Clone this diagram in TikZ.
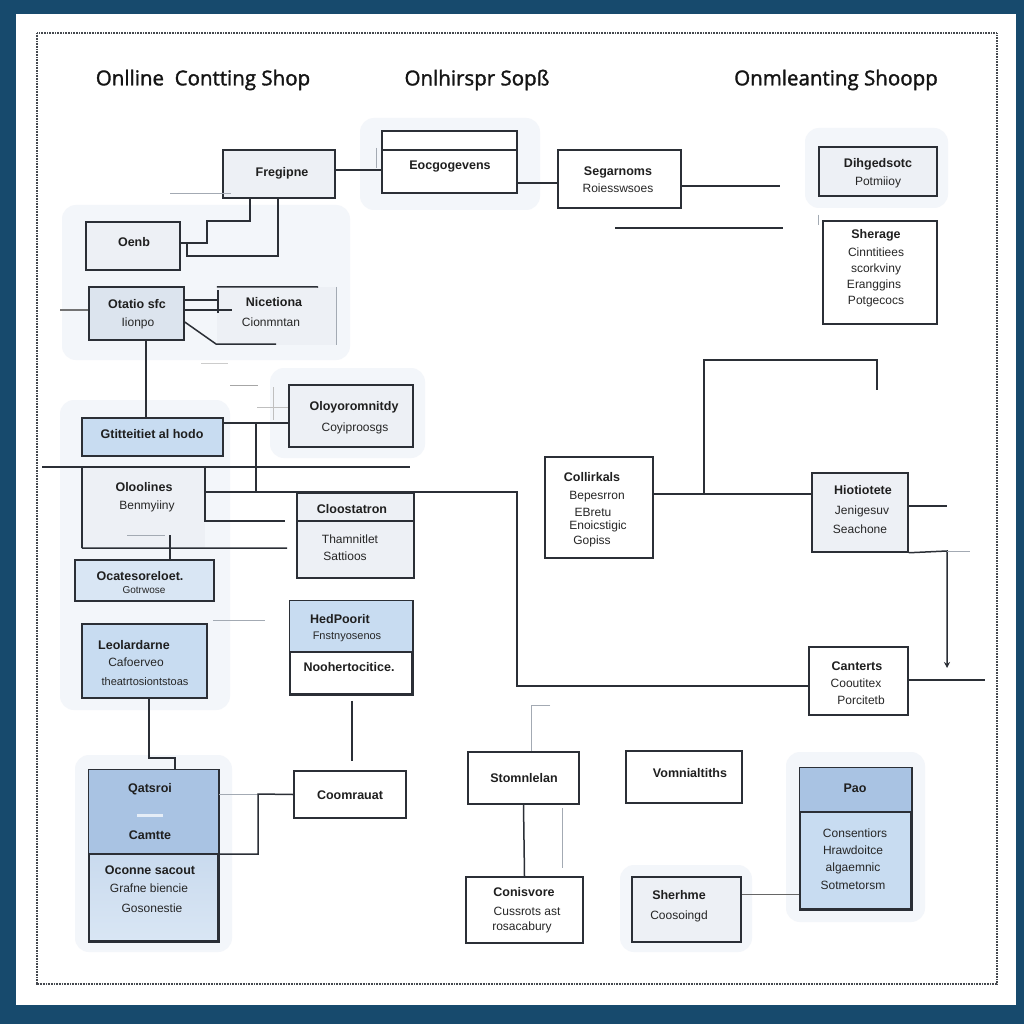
\documentclass[tikz,border=0pt]{standalone}
\usepackage{fontspec}
\setmainfont{Liberation Sans}
\newfontfamily\titlefont[FakeBold=1.6]{Open Sans}
\usetikzlibrary{arrows.meta}
\definecolor{framec}{HTML}{174A6D}
\definecolor{linec}{HTML}{2B2F36}
\definecolor{dotc}{HTML}{45494F}
\definecolor{bluehd}{HTML}{A9C3E3}
\definecolor{bluelt}{HTML}{C8DCF1}
\definecolor{bluexl}{HTML}{D9E6F4}
\definecolor{graylt}{HTML}{EDF0F5}
\definecolor{grayblue}{HTML}{DCE4EE}
\definecolor{faint}{HTML}{A3AAB3}
\definecolor{haze}{HTML}{F3F6FA}
\begin{document}
\begin{tikzpicture}[x=1pt,y=-1pt,
  box/.style={draw=linec,line width=1.5pt,inner sep=0pt,fill=white},
  bare/.style={inner sep=0pt},
  lbl/.style={font=\fontsize{12}{14}\selectfont,text=black!85,inner sep=0pt},
  hd/.style={font=\bfseries\fontsize{12.5}{14}\selectfont,text=black!88,inner sep=0pt},
  wire/.style={draw=linec,line width=1.5pt},
  thin/.style={draw=faint,line width=0.9pt},
  ttl/.style={font=\titlefont\fontsize{20.5}{24}\selectfont,text=black!92,inner sep=0pt}]
\useasboundingbox (0,0) rectangle (1024,1024);
\fill[framec] (0,0) rectangle (1024,1024);
\fill[white] (16,14) rectangle (1016,1005);
\draw[dotc,line width=1.6pt,dash pattern=on 0.8pt off 0.8pt] (37,33) rectangle (997,984);

% soft haze behind groups
\fill[haze,rounded corners=14pt] (62,205) rectangle (350,360);
\fill[haze,rounded corners=14pt] (270,368) rectangle (425,458);
\fill[haze,rounded corners=14pt] (360,118) rectangle (540,210);
\fill[haze,rounded corners=14pt] (805,128) rectangle (948,208);
\fill[haze,rounded corners=14pt] (60,400) rectangle (230,710);
\fill[haze,rounded corners=14pt] (75,755) rectangle (232,952);
\fill[haze,rounded corners=14pt] (786,752) rectangle (925,922);
\fill[haze,rounded corners=14pt] (620,865) rectangle (752,952);

% titles
\node[ttl] (title1) at (203,80) {Onlline\ \ Contting Shop};
\node[ttl] (title2) at (477,80) {Onlhirspr Sopß};
\node[ttl] (title3) at (836,80) {Onmleanting Shoopp};

% ---------- boxes ----------
\node[box,fill=graylt,minimum width=112pt,minimum height=48pt] (fregipne) at (279,174) {};
\node[hd] (fregipne-t) at (282,173) {Fregipne};

\node[box,minimum width=135pt,minimum height=62pt] (eocg) at (449.5,162) {};
\draw[wire] (eocg.west |- 0,150) -- (eocg.east |- 0,150);
\node[hd] (eocg-t) at (450,167) {Eocgogevens};

\node[box,minimum width=123pt,minimum height=58pt] (segar) at (619.5,179) {};
\node[hd] (segar-t1) at (618,172) {Segarnoms};
\node[lbl] (segar-t2) at (618,188) {Roiesswsoes};

\node[box,fill=graylt,minimum width=118pt,minimum height=49pt] (dihg) at (878,171.5) {};
\node[hd] (dihg-t1) at (878,164) {Dihgedsotc};
\node[lbl] (dihg-t2) at (878,182) {Potmiioy};

\node[box,minimum width=114pt,minimum height=103pt] (sherage) at (880,272.5) {};
\node[hd] (sherage-t1) at (876,235) {Sherage};
\node[lbl] (sherage-t2) at (876,252) {Cinntitiees};
\node[lbl] (sherage-t3) at (876,269) {scorkviny};
\node[lbl] (sherage-t4) at (874,285) {Eranggins};
\node[lbl] (sherage-t5) at (876,302) {Potgecocs};

\node[box,fill=graylt,minimum width=94pt,minimum height=48pt] (oenb) at (133,246) {};
\node[hd] (oenb-t) at (134,242) {Oenb};

\node[box,fill=grayblue,minimum width=95pt,minimum height=53pt] (otatio) at (136.5,313.5) {};
\node[hd] (otatio-t1) at (137,304) {Otatio sfc};
\node[lbl] (otatio-t2) at (138,323) {Iionpo};

\node[bare,fill=graylt,minimum width=119pt,minimum height=58pt] (nicet) at (276.5,316) {};
\draw[wire] (nicet.north west) -- (318,287);
\draw[thin] (nicet.north east) -- (nicet.south east);
\node[hd] (nicet-t1) at (274,302) {Nicetiona};
\node[lbl] (nicet-t2) at (271,322) {Cionmntan};

\node[box,fill=graylt,minimum width=124pt,minimum height=62pt] (oloyo) at (351,416) {};
\node[hd] (oloyo-t1) at (354,407) {Oloyoromnitdy};
\node[lbl] (oloyo-t2) at (355,428) {Coyiproosgs};

\node[box,fill=bluelt,minimum width=141pt,minimum height=38pt] (gtitt) at (152.5,437) {};
\node[hd] (gtitt-t) at (152,434) {Gtitteitiet al hodo};

\node[bare,fill=graylt,minimum width=123pt,minimum height=82pt] (ololines) at (143.5,507) {};
\node[hd] (ololines-t1) at (144,487) {Oloolines};
\node[lbl] (ololines-t2) at (147,506) {Benmyiiny};

\node[box,fill=graylt,minimum width=117pt,minimum height=85pt] (cloost) at (355.5,535.5) {};
\draw[wire] (cloost.west |- 0,521) -- (cloost.east |- 0,521);
\node[hd] (cloost-t1) at (352,509) {Cloostatron};
\node[lbl] (cloost-t2) at (350,539) {Thamnitlet};
\node[lbl] (cloost-t3) at (345,556) {Sattioos};

\node[box,fill=bluexl,minimum width=139pt,minimum height=41pt] (ocates) at (144.5,580.5) {};
\node[hd] (ocates-t1) at (140,576) {Ocatesoreloet.};
\node[lbl,font=\fontsize{10}{12}\selectfont] (ocates-t2) at (144,590) {Gotrwose};

\node[box,fill=bluelt,minimum width=125pt,minimum height=74pt] (leolard) at (144.5,661) {};
\node[hd] (leolard-t1) at (134,645) {Leolardarne};
\node[lbl] (leolard-t2) at (136,662) {Cafoerveo};
\node[lbl,font=\fontsize{11}{13}\selectfont] (leolard-t3) at (145,682) {theatrtosiontstoas};

\node[box,minimum width=122pt,minimum height=93pt] (hedp) at (351,647.5) {};
\fill[bluelt] (hedp.north west) rectangle (hedp.east |- 0,652);
\draw[wire] (hedp.north west) rectangle (hedp.south east);
\draw[wire] (hedp.west |- 0,652) -- (hedp.east |- 0,652);
\node[hd] (hedp-t1) at (340,619) {HedPoorit};
\node[lbl,font=\fontsize{11}{13}\selectfont] (hedp-t2) at (347,637) {Fnstnyosenos};
\node[hd] (hedp-t3) at (349,667) {Noohertocitice.};

\node[box,minimum width=108pt,minimum height=101pt] (collir) at (599,507.5) {};
\node[hd] (collir-t1) at (592,477) {Collirkals};
\node[lbl] (collir-t2) at (597,497) {Bepesrron};
\node[lbl] (collir-t3) at (593,512) {EBretu};
\node[lbl] (collir-t4) at (598,526) {Enoicstigic};
\node[lbl] (collir-t5) at (592,541) {Gopiss};

\node[box,fill=graylt,minimum width=96pt,minimum height=79pt] (hioti) at (860,512.5) {};
\node[hd] (hioti-t1) at (863,490) {Hiotiotete};
\node[lbl] (hioti-t2) at (862,511) {Jenigesuv};
\node[lbl] (hioti-t3) at (860,529) {Seachone};

\node[box,minimum width=99pt,minimum height=68pt] (cant) at (858.5,681) {};
\node[hd] (cant-t1) at (857,666) {Canterts};
\node[lbl] (cant-t2) at (856,683) {Cooutitex};
\node[lbl] (cant-t3) at (861,700) {Porcitetb};

\node[box,top color=bluehd!80,bottom color=bluexl,minimum width=129pt,minimum height=171pt] (qats) at (153.5,855.5) {};
\fill[bluehd] (qats.north west) rectangle (qats.east |- 0,854);
\draw[wire] (qats.north west) rectangle (qats.south east);
\draw[wire] (qats.west |- 0,854) -- (qats.east |- 0,854);
\draw[white!70!bluehd,line width=3pt] (137,815) -- (163,815);
\node[hd] (qats-t1) at (150,789) {Qatsroi};
\node[hd] (qats-t2) at (150,835) {Camtte};
\node[hd] (qats-t3) at (150,870) {Oconne sacout};
\node[lbl] (qats-t4) at (149,888) {Grafne biencie};
\node[lbl] (qats-t5) at (152,908) {Gosonestie};

\node[box,minimum width=112pt,minimum height=47pt] (coom) at (350,794.5) {};
\node[hd] (coom-t) at (350,795) {Coomrauat};

\node[box,minimum width=111pt,minimum height=52pt] (stomn) at (523.5,778) {};
\node[hd] (stomn-t) at (524,778) {Stomnlelan};

\node[box,minimum width=116pt,minimum height=52pt] (vomn) at (684,777) {};
\node[hd] (vomn-t) at (690,773) {Vomnialtiths};

\node[box,fill=bluelt,minimum width=111pt,minimum height=141pt] (pao) at (855.5,838.5) {};
\fill[bluehd] (pao.north west) rectangle (pao.east |- 0,812);
\draw[wire] (pao.north west) rectangle (pao.south east);
\draw[wire] (pao.west |- 0,812) -- (pao.east |- 0,812);
\node[hd] (pao-t1) at (855,788) {Pao};
\node[lbl] (pao-t2) at (855,833) {Consentiors};
\node[lbl] (pao-t3) at (853,850) {Hrawdoitce};
\node[lbl] (pao-t4) at (853,868) {algaemnic};
\node[lbl] (pao-t5) at (853,885) {Sotmetorsm};

\node[box,minimum width=117pt,minimum height=66pt] (conis) at (524.5,910) {};
\node[hd] (conis-t1) at (524,892) {Conisvore};
\node[lbl] (conis-t2) at (527,911) {Cussrots ast};
\node[lbl] (conis-t3) at (522,927) {rosacabury};

\node[box,fill=graylt,minimum width=109pt,minimum height=65pt] (sherh) at (686.5,909.5) {};
\node[hd] (sherh-t1) at (679,895) {Sherhme};
\node[lbl] (sherh-t2) at (679,916) {Coosoingd};

% ---------- free ends ----------
\coordinate (e1) at (780,186);
\coordinate (e2a) at (615,228);
\coordinate (e2b) at (783,228);
\coordinate (e3a) at (170,193);
\coordinate (e3b) at (231,193);
\coordinate (e4) at (60,310);
\coordinate (e5) at (232,310);
\coordinate (e6) at (276,344);
\coordinate (e7a) at (42,467);
\coordinate (e7b) at (410,467);
\coordinate (e8) at (287,548);
\coordinate (e9) at (285,521);
\coordinate (e10) at (877,390);
\coordinate (e11) at (947,506);
\coordinate (e12) at (947,668);
\coordinate (e13) at (985,680);
\coordinate (e14) at (970,551);
\coordinate (j1) at (187,243);
\coordinate (j2) at (256,423);
\coordinate (j3) at (170,535);

% ---------- connectors ----------
\draw[wire] (fregipne.east |- 0,170) -- (eocg.west |- 0,170);
\draw[thin] (376,148) -- (376,168);
\draw[wire] (eocg.east |- 0,183) -- (segar.west |- 0,183);
\draw[wire] (segar.east |- 0,186) -- (e1);
\draw[wire] (e2a) -- (e2b);
\draw[thin] (e3a) -- (e3b);
\draw[thin] (dihg.south west) ++(0,18) -- ++(0,10);

\draw[wire] (oenb.east |- 0,243) -- (207,243) -- (207,221) -- (250,221) -- (fregipne.south -| 250,0);
\draw[wire] (j1) -- (187,256) -- (278,256) -- (fregipne.south -| 278,0);

\draw[wire] (otatio.east |- 0,300) -- (nicet.west |- 0,300);
\draw[wire] (otatio.east |- 0,310) -- (e5);
\draw[wire] (218,290) -- (218,313);
\draw[wire] (otatio.east |- 0,322) -- (216,344) -- (e6);
\draw[wire,draw=black!55] (e4) -- (otatio.west |- 0,310);
\draw[wire] (otatio.south -| 146,0) -- (gtitt.north -| 146,0);

\draw[thin,draw=black!20] (201,363) -- (228,363);
\draw[thin,draw=black!35] (230,385) -- (258,385);
\draw[thin,draw=black!25] (273,387) -- (273,420);
\draw[thin,draw=black!25] (257,407) -- (oloyo.west |- 0,407);

\draw[wire] (gtitt.east |- 0,423) -- (oloyo.west |- 0,423);
\draw[wire] (j2) -- (256,492);
\draw[wire] (e7a) -- (e7b);
\draw[wire] (ololines.south west) -- (ololines.north west);
\draw[wire] (ololines.south west) -- (e8);
\draw[wire] (ololines.north east) -- (ololines.east |- 0,521) -- (e9);
\draw[wire] (ololines.east |- 0,492) -- (517,492) -- (517,686) -- (cant.west |- 0,686);
\draw[wire] (j3) -- (ocates.north -| 170,0);
\draw[thin] (127,535) -- (165,535);

\draw[thin] (213,620) -- (265,620);
\draw[wire] (leolard.south -| 149,0) -- (149,758) -- (175,758) -- (qats.north -| 175,0);
\draw[thin] (qats.east |- 0,794) -- (258,794);
\draw[wire] (qats.east |- 0,854) -- (258,854) -- (258,794) -- (coom.west);
\draw[wire,shorten <=6pt,shorten >=9pt] (hedp.south -| 352,0) -- (coom.north -| 352,0);

\draw[wire] (collir.east |- 0,494) -- (hioti.west |- 0,494);
\draw[wire] (704,494) -- (704,360) -- (877,360) -- (e10);
\draw[wire] (hioti.east |- 0,506) -- (e11);
\draw[wire,-{Stealth[length=6pt,width=6pt]}] (hioti.south east) -- (947,551) -- (e12);
\draw[thin] (947,551) -- (e14);
\draw[wire] (cant.east |- 0,680) -- (e13);

\draw[thin] (550,705) -- (531,705) -- (stomn.north -| 531,0);
\draw[wire] (stomn.south) -- (conis.north);
\draw[thin] (562,808) -- (562,868);
\draw[thin,draw=black!60] (sherh.east |- 0,894) -- (pao.west |- 0,894);
\end{tikzpicture}
\end{document}
